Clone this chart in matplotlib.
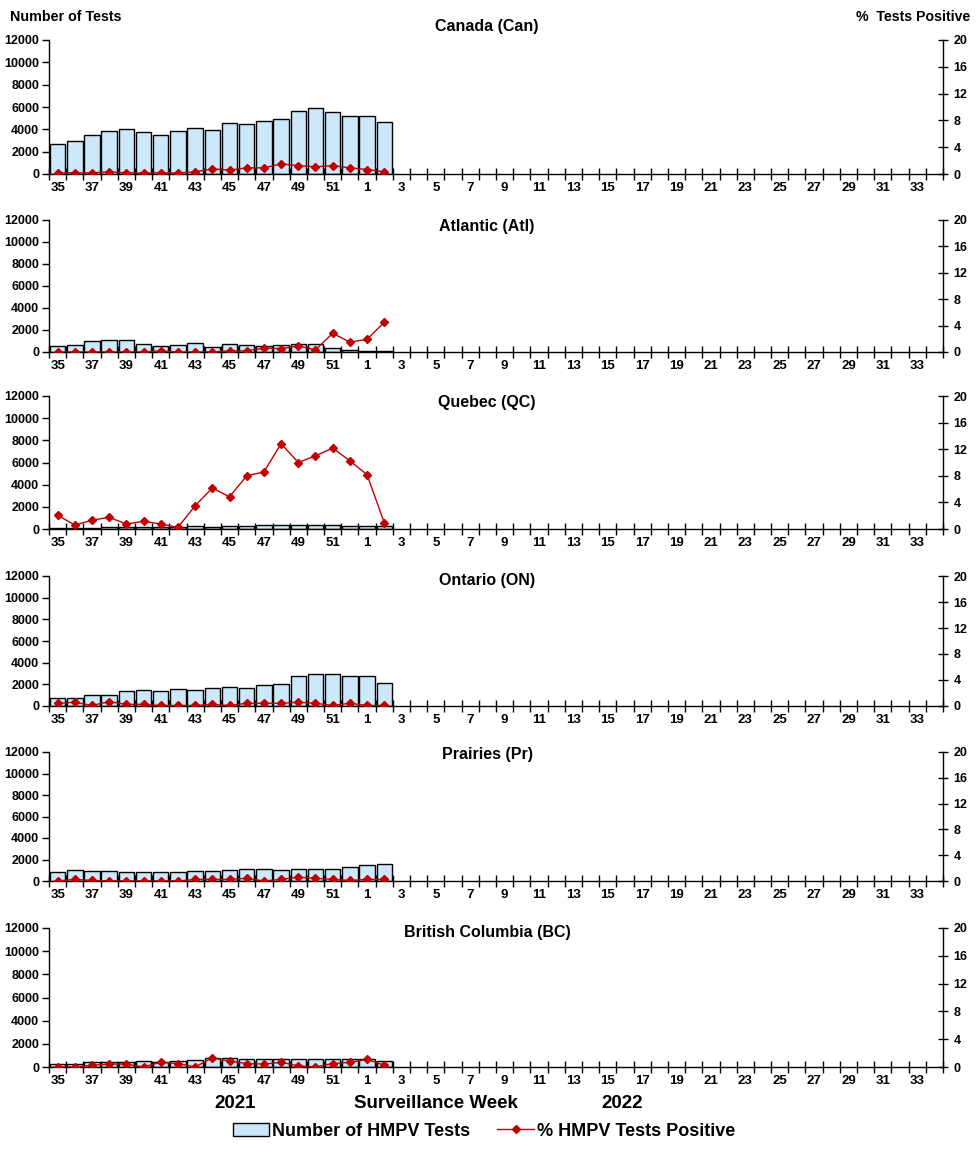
import numpy as np
import matplotlib.pyplot as plt
from matplotlib.patches import Patch
from matplotlib.lines import Line2D

plt.rcParams['font.family'] = ['Liberation Sans', 'DejaVu Sans']
plt.rcParams['font.weight'] = 'bold'

weeks = list(range(35, 53)) + list(range(1, 35))

regions = ["Canada (Can)", "Atlantic (Atl)", "Quebec (QC)",
           "Ontario (ON)", "Prairies (Pr)", "British Columbia (BC)"]

# number of tests, weeks 35..2
can_tests = [2700, 2950, 3500, 3850, 4000, 3750, 3500, 3850, 4100, 3950,
             4550, 4450, 4750, 4900, 5650, 5900, 5550, 5200, 5200, 4650]
atl_tests = [550, 650, 1000, 1100, 1100, 750, 550, 650, 850, 450,
             750, 650, 550, 600, 700, 750, 350, 150, 80, 50]
qc_tests = [100, 100, 100, 200, 200, 200, 200, 200, 300, 200,
            300, 300, 350, 350, 350, 350, 350, 300, 300, 300]
on_tests = [750, 750, 1050, 1050, 1400, 1500, 1400, 1600, 1500, 1700,
            1750, 1650, 1950, 2000, 2750, 3000, 3000, 2750, 2750, 2100]
pr_tests = [800, 1000, 900, 900, 800, 800, 800, 800, 900, 900,
            1000, 1100, 1100, 1000, 1100, 1100, 1100, 1300, 1450, 1550]
bc_tests = [300, 300, 400, 450, 450, 550, 450, 550, 600, 750,
            800, 700, 700, 700, 700, 700, 700, 700, 700, 550]

# percent positive
can_pct = [0.17, 0.17, 0.17, 0.33, 0.17, 0.17, 0.17, 0.17, 0.33, 0.75,
           0.58, 0.92, 0.92, 1.5, 1.25, 1.08, 1.25, 0.92, 0.67, 0.33]
atl_pct = [0, 0, 0, 0, 0, 0, 0.17, 0, 0, 0,
           0.17, 0.17, 0.58, 0.5, 0.92, 0.33, 2.83, 1.5, 1.92, 4.5]
qc_pct = [2.08, 0.58, 1.33, 1.75, 0.75, 1.17, 0.75, 0.25, 3.5, 6.17,
          4.83, 8.0, 8.58, 12.83, 10.0, 11.0, 12.17, 10.25, 8.17, 0.92]
on_pct = [0.42, 0.58, 0.08, 0.67, 0.25, 0.25, 0.08, 0.08, 0.08, 0.25,
          0.08, 0.42, 0.42, 0.42, 0.58, 0.42, 0.08, 0.42, 0.08, 0.08]
pr_pct = [0, 0.25, 0.08, 0, 0, 0, 0, 0, 0.25, 0.25,
          0.25, 0.42, 0, 0.25, 0.58, 0.42, 0.25, 0.08, 0.25, 0.25]
bc_pct = [0, 0, 0.25, 0.42, 0.42, 0, 0.67, 0.5, 0, 1.33,
          0.83, 0.5, 0.42, 0.67, 0.17, 0, 0.5, 0.67, 1.08, 0.25]

tests = [can_tests, atl_tests, qc_tests, on_tests, pr_tests, bc_tests]
pcts = [can_pct, atl_pct, qc_pct, on_pct, pr_pct, bc_pct]

bar_color = '#CCE8FA'
line_color = '#C00000'

W, H = 976, 1152
fig = plt.figure(figsize=(W / 100, H / 100), dpi=100)

# (top px, bottom px) of each panel, and title y px
panels = [(40, 174, 27), (220, 352, 227), (396, 529, 403),
          (576, 706, 580), (752, 881, 755), (928, 1067, 932)]
left_px, right_px = 49, 943

x_all = np.arange(len(weeks))

for i, (top, bot, ty) in enumerate(panels):
    ax = fig.add_axes([left_px / W, 1 - bot / H, (right_px - left_px) / W, (bot - top) / H])
    n = len(tests[i])
    ax.bar(x_all[:n], tests[i], width=0.9, color=bar_color,
           edgecolor='black', linewidth=1.0, zorder=2)
    ax.set_xlim(-0.5, len(weeks) - 0.5)
    ax.set_ylim(0, 12000)
    ax.set_yticks(range(0, 12001, 2000))
    ax.set_xticks(x_all[::2])
    ax.set_xticklabels([str(w) for w in weeks[::2]])
    ax.set_xticks(np.arange(-0.5, len(weeks)), minor=True)
    ax.tick_params(axis='x', which='major', length=0, pad=6, labelsize=9.5)
    ax.tick_params(axis='x', which='minor', length=8, width=1, direction='inout')
    ax.tick_params(axis='y', length=5, width=1, labelsize=9, pad=2)
    ax.spines['top'].set_visible(False)
    ax.spines['right'].set_visible(False)
    for s in ['left', 'bottom']:
        ax.spines[s].set_linewidth(1.0)

    ax2 = ax.twinx()
    ax2.plot(x_all[:n], pcts[i], color=line_color, marker='D', markersize=4.5,
             linewidth=1.0, zorder=3)
    ax2.set_ylim(0, 20)
    ax2.set_yticks(range(0, 21, 4))
    ax2.tick_params(axis='y', length=7, width=1, direction='inout', labelsize=9, pad=4)
    ax2.spines['top'].set_visible(False)
    ax2.spines['left'].set_visible(False)
    ax2.spines['bottom'].set_visible(False)
    ax2.spines['right'].set_linewidth(1.0)

    fig.text(487 / W, 1 - ty / H, regions[i], ha='center', va='center',
             fontsize=11.5, fontweight='bold')

fig.text(10 / W, 1 - 17 / H, "Number of Tests", ha='left', va='center',
         fontsize=10.3, fontweight='bold')
fig.text(970 / W, 1 - 17 / H, "%  Tests Positive", ha='right', va='center',
         fontsize=10.2, fontweight='bold')

fig.text(235 / W, 1 - 1104 / H, "2021", ha='center', va='center',
         fontsize=13.5, fontweight='bold')
fig.text(436 / W, 1 - 1104 / H, "Surveillance Week", ha='center', va='center',
         fontsize=13.5, fontweight='bold')
fig.text(622 / W, 1 - 1104 / H, "2022", ha='center', va='center',
         fontsize=13.5, fontweight='bold')

handles = [Patch(facecolor=bar_color, edgecolor='black', linewidth=1.0),
           Line2D([], [], color=line_color, marker='D', markersize=4.5, linewidth=1.0)]
fig.legend(handles, ["Number of HMPV Tests", "% HMPV Tests Positive"],
           loc='center', bbox_to_anchor=(484 / W, 1 - 1131 / H), ncol=2,
           frameon=False, prop={'weight': 'bold', 'size': 13},
           handlelength=2.0, handletextpad=0.2, columnspacing=1.5)

fig.savefig('out.png', dpi=100)
